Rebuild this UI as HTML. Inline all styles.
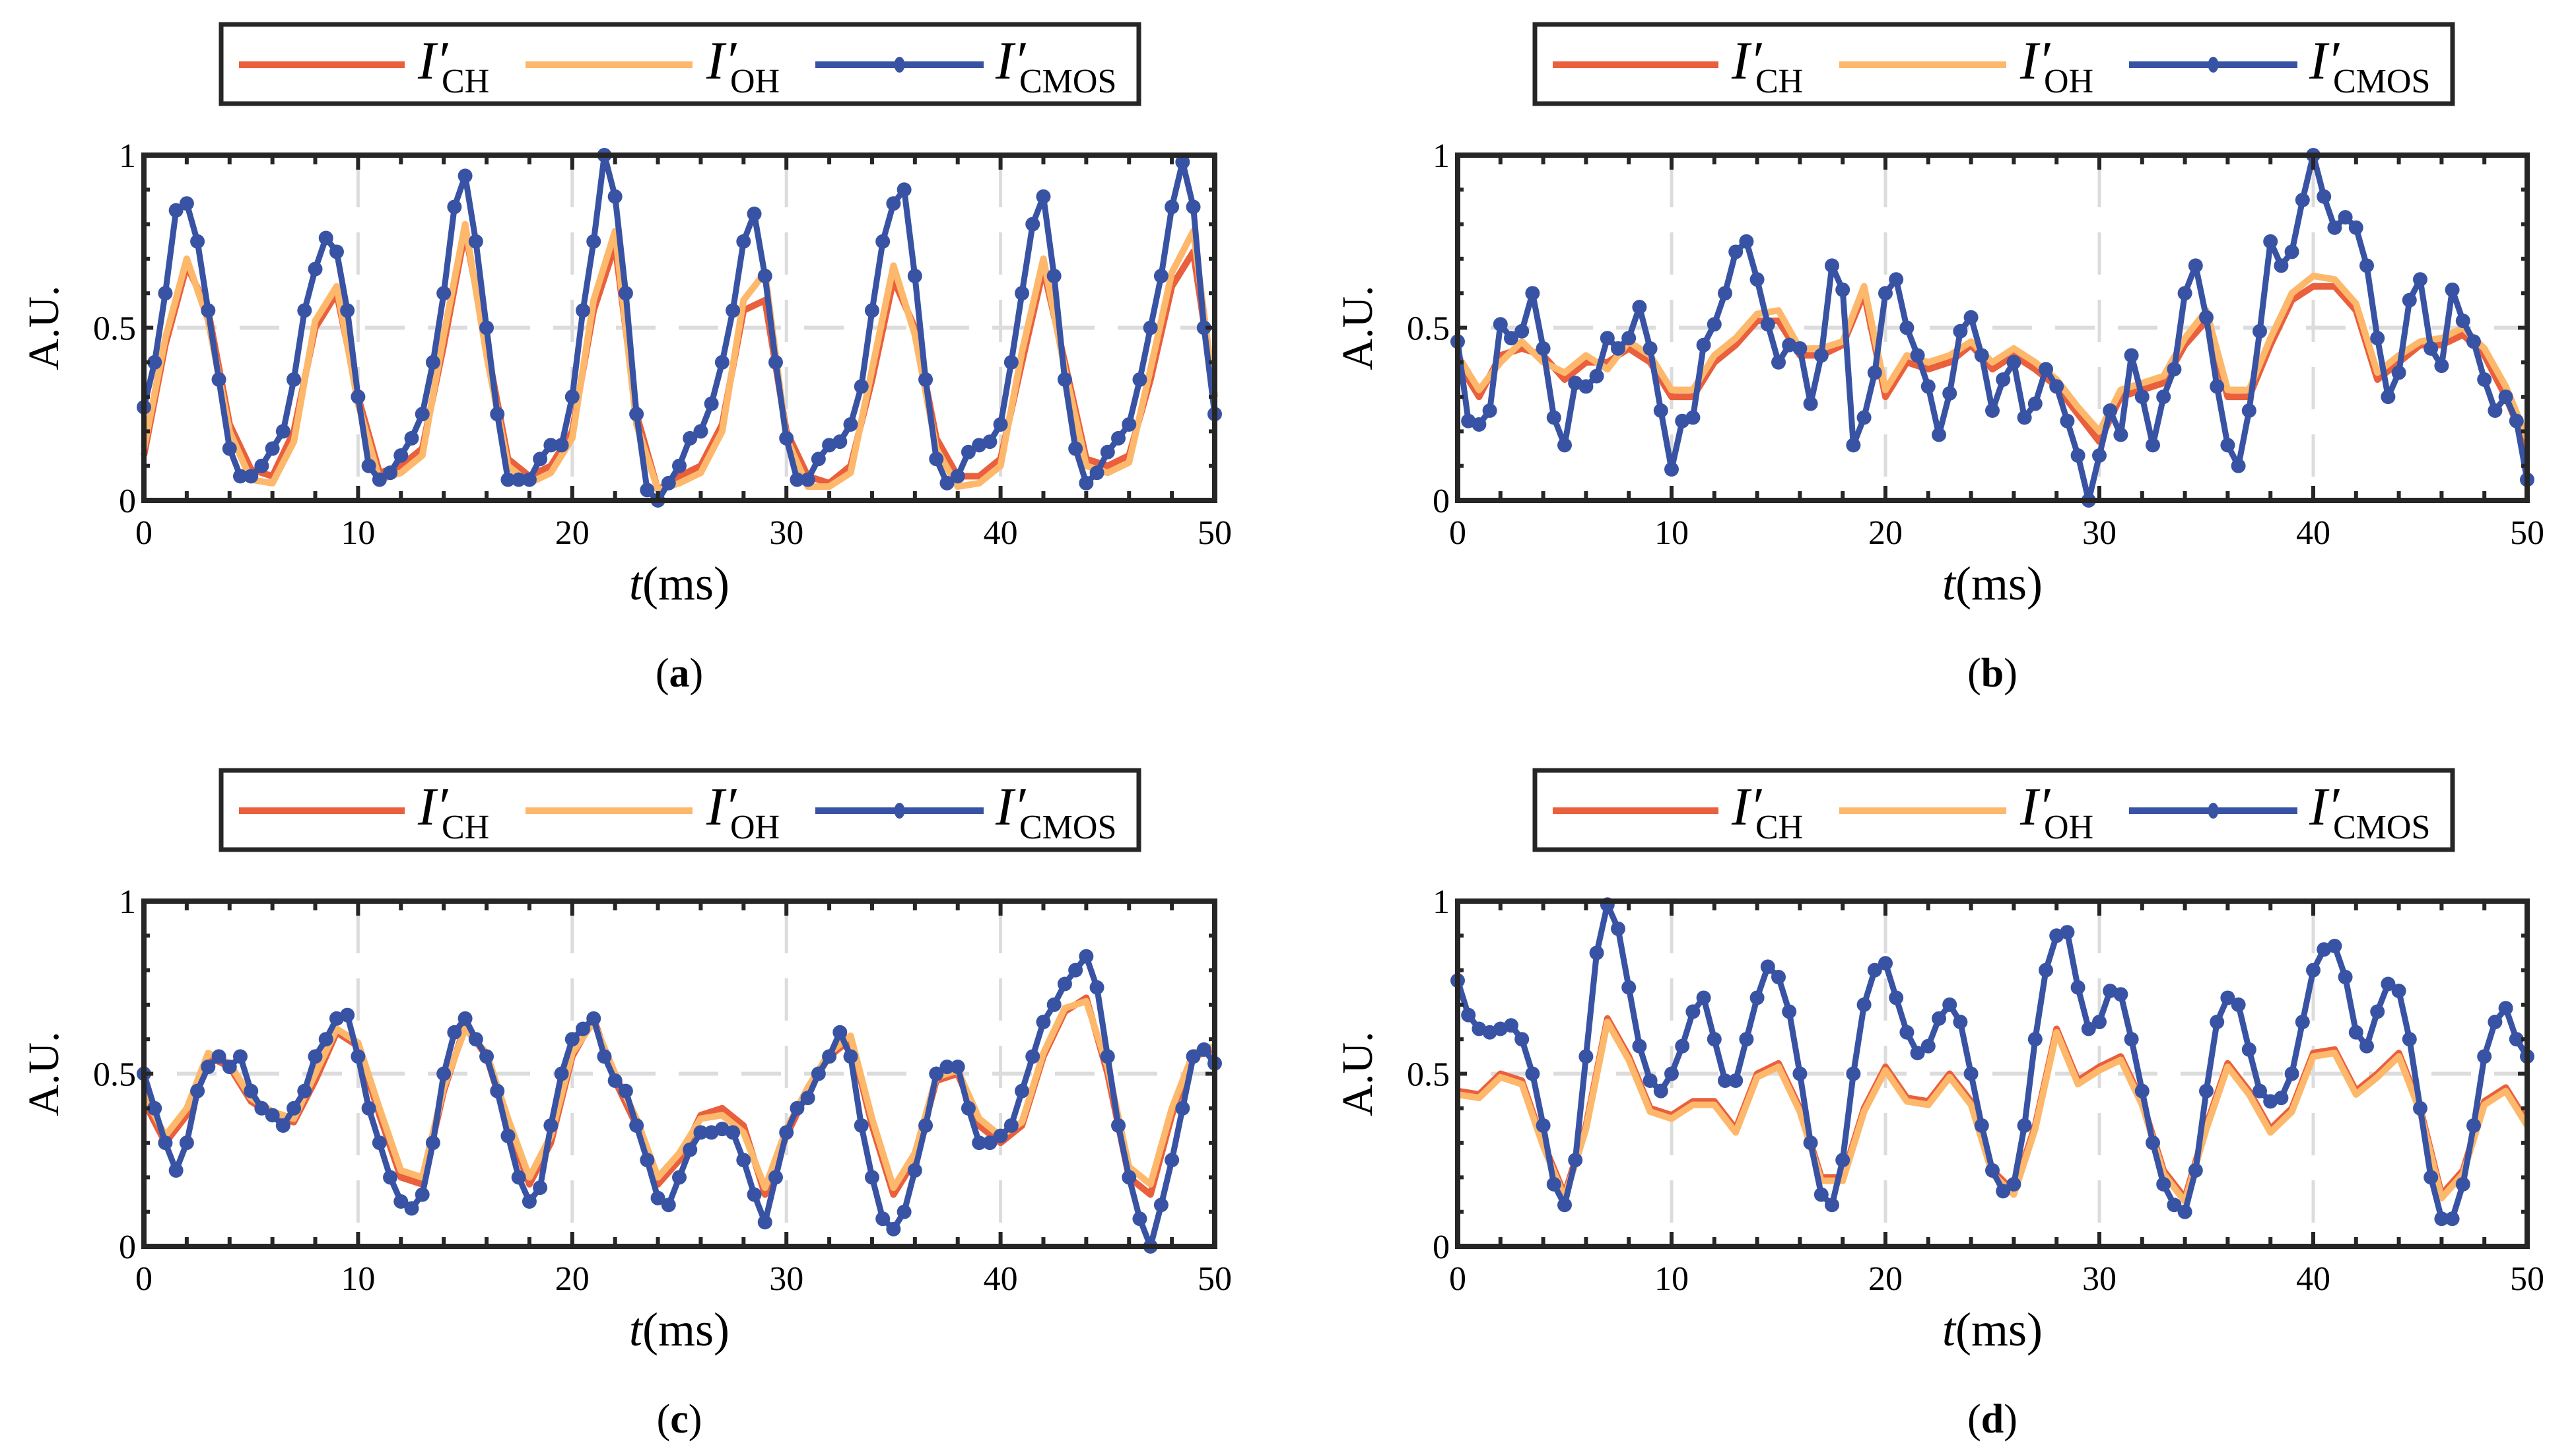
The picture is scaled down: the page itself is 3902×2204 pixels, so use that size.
<!DOCTYPE html>
<html><head><meta charset="utf-8"><style>
html,body{margin:0;padding:0;background:#fff;}
svg{display:block;}
text{font-family:"Liberation Serif",serif;fill:#000;}
</style></head><body>
<svg id="fig" width="3902" height="2204" viewBox="0 0 3902 2204" xmlns="http://www.w3.org/2000/svg"></svg>
<script>
// ---------- data ----------
const tCMOS = []; for (let i = 0; i <= 100; i++) tCMOS.push(i * 0.5);
const tOrange = []; for (let i = 0; i <= 50; i++) tOrange.push(i);
const xTicks = [0, 10, 20, 30, 40, 50];
const yTicks = [0, 0.5, 1];
const yTickLabels = ["0", "0.5", "1"];

const cmosA = [0.27,0.40,0.60,0.84,0.86,0.75,0.55,0.35,0.15,0.07,0.07,0.10,0.15,0.20,0.35,0.55,0.67,0.76,0.72,0.55,0.30,0.10,0.06,0.08,0.13,0.18,0.25,0.40,0.60,0.85,0.94,0.75,0.50,0.25,0.06,0.06,0.06,0.12,0.16,0.16,0.30,0.55,0.75,1.0,0.88,0.60,0.25,0.03,0.0,0.05,0.10,0.18,0.20,0.28,0.40,0.55,0.75,0.83,0.65,0.40,0.18,0.06,0.06,0.12,0.16,0.17,0.22,0.33,0.55,0.75,0.86,0.90,0.65,0.35,0.12,0.05,0.07,0.14,0.16,0.17,0.22,0.40,0.60,0.80,0.88,0.65,0.35,0.15,0.05,0.08,0.14,0.18,0.22,0.35,0.50,0.65,0.85,0.98,0.85,0.50,0.25];
const chA = [0.13,0.45,0.68,0.55,0.22,0.09,0.07,0.20,0.50,0.60,0.30,0.08,0.10,0.15,0.45,0.78,0.45,0.12,0.07,0.10,0.20,0.55,0.74,0.25,0.03,0.07,0.10,0.22,0.55,0.58,0.20,0.07,0.05,0.10,0.35,0.64,0.50,0.18,0.07,0.07,0.12,0.40,0.67,0.40,0.12,0.10,0.13,0.35,0.62,0.72,0.30];
const ohA = [0.15,0.47,0.70,0.52,0.20,0.06,0.05,0.17,0.52,0.62,0.28,0.06,0.08,0.13,0.48,0.80,0.42,0.10,0.05,0.08,0.18,0.58,0.78,0.22,0.03,0.05,0.08,0.20,0.58,0.66,0.18,0.04,0.04,0.08,0.38,0.68,0.48,0.15,0.04,0.05,0.10,0.43,0.70,0.38,0.10,0.08,0.11,0.38,0.66,0.78,0.30];

const cmosB = [0.46,0.23,0.22,0.26,0.51,0.47,0.49,0.60,0.44,0.24,0.16,0.34,0.33,0.36,0.47,0.44,0.47,0.56,0.44,0.26,0.09,0.23,0.24,0.45,0.51,0.60,0.72,0.75,0.64,0.51,0.40,0.45,0.44,0.28,0.42,0.68,0.61,0.16,0.24,0.37,0.60,0.64,0.50,0.42,0.33,0.19,0.31,0.49,0.53,0.42,0.26,0.35,0.40,0.24,0.28,0.38,0.33,0.23,0.13,0.0,0.13,0.26,0.19,0.42,0.30,0.16,0.30,0.38,0.60,0.68,0.53,0.33,0.16,0.10,0.26,0.49,0.75,0.68,0.72,0.87,1.0,0.88,0.79,0.82,0.79,0.68,0.47,0.30,0.37,0.58,0.64,0.44,0.39,0.61,0.52,0.46,0.35,0.26,0.30,0.23,0.06];
const chB = [0.40,0.30,0.42,0.44,0.42,0.35,0.40,0.40,0.44,0.40,0.30,0.30,0.40,0.45,0.52,0.52,0.42,0.42,0.45,0.60,0.30,0.40,0.38,0.40,0.45,0.38,0.42,0.38,0.33,0.25,0.17,0.30,0.32,0.34,0.45,0.52,0.30,0.30,0.45,0.58,0.62,0.62,0.55,0.35,0.40,0.45,0.45,0.48,0.42,0.30,0.15];
const ohB = [0.42,0.32,0.40,0.46,0.40,0.37,0.42,0.38,0.46,0.42,0.32,0.32,0.42,0.47,0.54,0.55,0.44,0.44,0.46,0.62,0.32,0.42,0.40,0.42,0.46,0.40,0.44,0.40,0.35,0.27,0.20,0.32,0.34,0.36,0.47,0.55,0.32,0.32,0.47,0.60,0.65,0.64,0.57,0.37,0.42,0.46,0.47,0.50,0.44,0.33,0.18];

const cmosC = [0.50,0.40,0.30,0.22,0.30,0.45,0.52,0.55,0.52,0.55,0.45,0.40,0.38,0.35,0.40,0.45,0.55,0.60,0.66,0.67,0.55,0.40,0.30,0.20,0.13,0.11,0.15,0.30,0.50,0.62,0.66,0.60,0.55,0.45,0.32,0.20,0.13,0.17,0.35,0.50,0.60,0.63,0.66,0.55,0.48,0.45,0.35,0.25,0.14,0.12,0.20,0.28,0.33,0.33,0.34,0.33,0.25,0.15,0.07,0.20,0.33,0.40,0.43,0.50,0.55,0.62,0.55,0.35,0.20,0.08,0.05,0.10,0.22,0.35,0.50,0.52,0.52,0.40,0.30,0.30,0.32,0.35,0.45,0.55,0.65,0.70,0.76,0.80,0.84,0.75,0.55,0.35,0.20,0.08,0.0,0.12,0.25,0.40,0.55,0.57,0.53];
const chC = [0.42,0.30,0.38,0.55,0.52,0.42,0.38,0.36,0.48,0.62,0.58,0.38,0.20,0.18,0.45,0.64,0.55,0.35,0.18,0.30,0.55,0.66,0.48,0.35,0.18,0.25,0.38,0.40,0.35,0.15,0.32,0.45,0.55,0.60,0.35,0.15,0.25,0.48,0.50,0.35,0.30,0.35,0.55,0.68,0.72,0.50,0.20,0.15,0.38,0.55,0.57];
const ohC = [0.44,0.32,0.40,0.56,0.53,0.43,0.39,0.37,0.50,0.63,0.59,0.40,0.22,0.20,0.46,0.63,0.56,0.37,0.20,0.32,0.56,0.65,0.50,0.37,0.20,0.27,0.37,0.38,0.33,0.17,0.34,0.46,0.56,0.61,0.37,0.17,0.27,0.49,0.51,0.37,0.32,0.36,0.56,0.69,0.71,0.52,0.23,0.18,0.40,0.56,0.58];

const cmosD = [0.77,0.67,0.63,0.62,0.63,0.64,0.60,0.50,0.35,0.18,0.12,0.25,0.55,0.85,0.99,0.92,0.75,0.58,0.48,0.45,0.50,0.58,0.68,0.72,0.60,0.48,0.48,0.60,0.72,0.81,0.78,0.68,0.50,0.30,0.15,0.12,0.25,0.50,0.70,0.80,0.82,0.72,0.62,0.56,0.58,0.66,0.70,0.65,0.50,0.35,0.22,0.16,0.18,0.35,0.60,0.80,0.90,0.91,0.75,0.63,0.65,0.74,0.73,0.60,0.45,0.30,0.18,0.12,0.10,0.22,0.45,0.65,0.72,0.70,0.57,0.45,0.42,0.43,0.50,0.65,0.80,0.86,0.87,0.78,0.62,0.58,0.68,0.76,0.74,0.60,0.40,0.20,0.08,0.08,0.18,0.35,0.55,0.65,0.69,0.60,0.55];
const chD = [0.45,0.44,0.50,0.48,0.30,0.15,0.35,0.66,0.55,0.40,0.38,0.42,0.42,0.34,0.50,0.53,0.40,0.20,0.20,0.40,0.52,0.43,0.42,0.50,0.42,0.22,0.16,0.35,0.63,0.48,0.52,0.55,0.42,0.22,0.14,0.35,0.53,0.45,0.34,0.40,0.56,0.57,0.45,0.50,0.56,0.40,0.15,0.22,0.42,0.46,0.36];
const ohD = [0.44,0.43,0.49,0.47,0.29,0.14,0.34,0.65,0.54,0.39,0.37,0.41,0.41,0.33,0.49,0.52,0.39,0.19,0.19,0.39,0.51,0.42,0.41,0.49,0.41,0.21,0.15,0.34,0.62,0.47,0.51,0.54,0.41,0.21,0.13,0.34,0.52,0.44,0.33,0.39,0.55,0.56,0.44,0.49,0.55,0.39,0.14,0.21,0.41,0.45,0.35];

// ---------- drawing ----------
const NS = "http://www.w3.org/2000/svg";
const svg = document.getElementById("fig");
function mk(tag, attrs, parent) {
  const e = document.createElementNS(NS, tag);
  for (const k in attrs) e.setAttribute(k, attrs[k]);
  (parent || svg).appendChild(e);
  return e;
}
const C_CH = "#ea5f3c", C_OH = "#fdb86b", C_CMOS = "#3953a4";

const panels = [
  {id:"a", L:218, R:1840, T:235, B:758, legY:37, legX:335, cm:cmosA, ch:chA, oh:ohA},
  {id:"b", L:2208, R:3828, T:235, B:758, legY:37, legX:2325, cm:cmosB, ch:chB, oh:ohB},
  {id:"c", L:218, R:1840, T:1365, B:1888, legY:1167, legX:335, cm:cmosC, ch:chC, oh:ohC},
  {id:"d", L:2208, R:3828, T:1365, B:1888, legY:1167, legX:2325, cm:cmosD, ch:chD, oh:ohD}
];

panels.forEach(p => {
  const g = mk("g", {});
  
  
  const sx = t => p.L + (t / 50) * (p.R - p.L);
  const sy = v => p.B - v * (p.B - p.T);

  // legend
  const lg = mk("g", {}, g);
  
  
  mk("rect", {x:p.legX, y:p.legY, width:1390, height:120, fill:"#fff", stroke:"#262626", "stroke-width":7}, lg);
  const items = [
    {c:C_CH, x0:27, x1:278, tx:298, sub:"CH", name:"legend-entry-ch"},
    {c:C_OH, x0:461, x1:714, tx:735, sub:"OH", name:"legend-entry-oh"},
    {c:C_CMOS, x0:900, x1:1155, tx:1173, sub:"CMOS", name:"legend-entry-cmos"}
  ];
  items.forEach((it, k) => {
    const ig = mk("g", {}, lg);
    
    
    const ly = p.legY + 61;
    mk("line", {x1:p.legX+it.x0, x2:p.legX+it.x1, y1:ly, y2:ly, stroke:it.c, "stroke-width":10}, ig);
    if (k === 2) mk("ellipse", {cx:p.legX+(it.x0+it.x1)/2, cy:ly, rx:8, ry:12, fill:C_CMOS}, ig);
    const tx = mk("text", {x:p.legX+it.tx, y:p.legY+82, "font-size":82, "font-style":"italic"}, ig);
    tx.textContent = "I\u2032";
    const st = mk("text", {x:p.legX+it.tx+36, y:p.legY+103, "font-size":52}, ig);
    st.textContent = it.sub;
  });

  // grid
  const gg = mk("g", {}, g);
  
  
  xTicks.slice(1, -1).forEach(t => {
    mk("line", {x1:sx(t), x2:sx(t), y1:p.T, y2:p.B, stroke:"#dcdcdc", "stroke-width":5, "stroke-dasharray":"64 38", "stroke-dashoffset":"-15"}, gg);
  });
  mk("line", {x1:p.L, x2:p.R, y1:sy(0.5), y2:sy(0.5), stroke:"#dcdcdc", "stroke-width":6, "stroke-dasharray":"60 35", "stroke-dashoffset":"-50"}, gg);

  // series
  const pts = (ts, vs) => vs.map((v, i) => sx(ts[i]).toFixed(1) + "," + sy(v).toFixed(1)).join(" ");
  const lCH = mk("polyline", {points:pts(tOrange, p.ch), fill:"none", stroke:C_CH, "stroke-width":10, "stroke-linejoin":"round"}, g);
  
  
  const lOH = mk("polyline", {points:pts(tOrange, p.oh), fill:"none", stroke:C_OH, "stroke-width":10, "stroke-linejoin":"round"}, g);
  
  
  const lCM = mk("polyline", {points:pts(tCMOS, p.cm), fill:"none", stroke:C_CMOS, "stroke-width":9, "stroke-linejoin":"round"}, g);
  
  
  p.cm.forEach((v, i) => {
    const d = mk("circle", {cx:sx(tCMOS[i]), cy:sy(v), r:11, fill:C_CMOS}, g);
    
    
  });

  // ticks
  const tg = mk("g", {stroke:"#262626", "stroke-width":6}, g);
  
  
  for (let t = 0; t <= 50; t += 2) {
    const len = (t % 10 === 0) ? 22 : 14;
    mk("line", {x1:sx(t), x2:sx(t), y1:p.B, y2:p.B-len}, tg);
    mk("line", {x1:sx(t), x2:sx(t), y1:p.T, y2:p.T+len}, tg);
  }
  for (let k = 0; k <= 10; k++) {
    const v = k / 10, len = (k % 5 === 0) ? 14 : 9;
    mk("line", {x1:p.L, x2:p.L+len, y1:sy(v), y2:sy(v)}, tg);
    mk("line", {x1:p.R, x2:p.R-len, y1:sy(v), y2:sy(v)}, tg);
  }
  // frame
  const fr = mk("rect", {x:p.L, y:p.T, width:p.R-p.L, height:p.B-p.T, fill:"none", stroke:"#262626", "stroke-width":8}, g);
  
  

  // tick labels
  xTicks.forEach(t => {
    const tx = mk("text", {x:sx(t), y:p.B+66, "font-size":52, "text-anchor":"middle"}, g);
    
    
    tx.textContent = String(t);
  });
  yTicks.forEach((v, i) => {
    const tx = mk("text", {x:p.L-12, y:sy(v)+18, "font-size":52, "text-anchor":"end"}, g);
    
    
    tx.textContent = yTickLabels[i];
  });
  // axis titles
  const yl = mk("text", {x:0, y:0, "font-size":66, "text-anchor":"middle", transform:"translate("+(p.L-130)+","+((p.T+p.B)/2)+") rotate(-90)"}, g);
  
  
  yl.textContent = "A.U.";
  const xl = mk("text", {x:(p.L+p.R)/2, y:p.B+150, "font-size":72, "text-anchor":"middle"}, g);
  
  
  const ti = mk("tspan", {"font-style":"italic"}, xl); ti.textContent = "t";
  const tr = mk("tspan", {}, xl); tr.textContent = "(ms)";
  // caption
  const cap = mk("text", {x:(p.L+p.R)/2, y:p.B+282, "font-size":62, "text-anchor":"middle"}, g);
  
  
  const c1 = mk("tspan", {}, cap); c1.textContent = "(";
  const c2 = mk("tspan", {"font-weight":"bold"}, cap); c2.textContent = p.id;
  const c3 = mk("tspan", {}, cap); c3.textContent = ")";
});
</script>
</body></html>
